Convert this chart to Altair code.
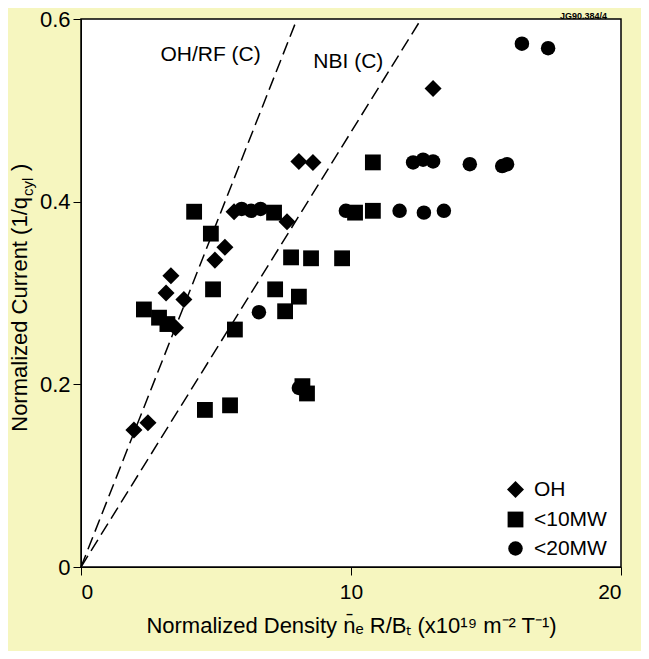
import altair as alt
import pandas as pd

# --- data ---
oh_x = [1.96, 2.48, 3.33, 3.81, 3.15, 3.5, 4.96, 5.33, 5.67, 7.63, 8.07, 8.59, 13.04]
oh_y = [0.150, 0.158, 0.319, 0.293, 0.300, 0.262, 0.336, 0.350, 0.389, 0.378, 0.444, 0.443, 0.524]

mw10_x = [2.33, 2.89, 3.2, 4.19, 4.81, 4.89, 4.59, 5.52, 5.70, 7.15, 7.78, 8.52, 9.67,
          7.19, 8.07, 7.56, 8.2, 8.37, 10.15, 10.81, 10.81]
mw10_y = [0.282, 0.273, 0.266, 0.389, 0.365, 0.304, 0.172, 0.177, 0.260, 0.388, 0.339, 0.338, 0.338,
          0.304, 0.296, 0.280, 0.198, 0.190, 0.388, 0.443, 0.390]

mw20_x = [6.59, 5.95, 6.3, 6.65, 8.07, 9.81, 11.8, 12.7, 13.44, 12.3, 12.67, 13.04,
          14.4, 15.6, 15.78, 16.33, 17.3]
mw20_y = [0.279, 0.392, 0.390, 0.392, 0.196, 0.390, 0.390, 0.388, 0.390, 0.443, 0.446, 0.444,
          0.441, 0.439, 0.441, 0.573, 0.568]

groups = ["OH", "<10MW", "<20MW"]
shapes = ["diamond", "square", "circle"]
sizes = [290, 210, 200]

# dashed scaling lines (from origin to the top of the frame)
line_names = ["OH/RF (C)", "NBI (C)"]
line_x_end = [8.0, 12.6]
line_y_end = [0.6, 0.6]
label_x = [4.8, 9.9]
label_y = [0.561, 0.553]

x_ticks = [0, 10, 20]
y_ticks = [0, 0.2, 0.4, 0.6]

FONT = "Liberation Sans"

pts = pd.DataFrame(
    [{"x": x, "y": y, "g": "OH"} for x, y in zip(oh_x, oh_y)]
    + [{"x": x, "y": y, "g": "<10MW"} for x, y in zip(mw10_x, mw10_y)]
    + [{"x": x, "y": y, "g": "<20MW"} for x, y in zip(mw20_x, mw20_y)]
)

lines = pd.DataFrame(
    [{"name": n, "x": 0, "y": 0} for n in line_names]
    + [{"name": n, "x": xe, "y": ye} for n, xe, ye in zip(line_names, line_x_end, line_y_end)]
)
labels = pd.DataFrame({"name": line_names, "x": label_x, "y": label_y})

xscale = alt.Scale(domain=[0, 20], nice=False)
yscale = alt.Scale(domain=[0, 0.6], nice=False)

xaxis = alt.Axis(
    values=x_ticks, format="d", grid=False, tickSize=8, tickColor="black",
    domainColor="black", labelColor="black", labelFontSize=21, labelFont=FONT,
    labelPadding=6,
    title="Normalized Density n\u0304\u2091 R/B\u209c (x10\u00b9\u2079 m\u207b\u00b2 T\u207b\u00b9)",
    titleFont=FONT, titleFontSize=22, titleFontWeight="normal", titleColor="black",
    titlePadding=13,
)
yaxis = alt.Axis(
    values=y_ticks, grid=False, tickSize=8, tickColor="black",
    domainColor="black", labelColor="black", labelFontSize=22, labelFont=FONT,
    labelPadding=3,
    labelExpr="datum.value == 0 ? '0' : format(datum.value, '.1f')",
    title=None,
)

leg = alt.Legend(title=None, orient="none", legendX=424, legendY=460,
                 labelFontSize=21, labelFont=FONT, labelColor="black",
                 symbolFillColor="black", symbolStrokeColor="black",
                 rowPadding=6, labelOffset=8)

points = alt.Chart(pts).mark_point(filled=True, opacity=1, color="black").encode(
    x=alt.X("x:Q", scale=xscale, axis=xaxis),
    y=alt.Y("y:Q", scale=yscale, axis=yaxis),
    shape=alt.Shape("g:N", scale=alt.Scale(domain=groups, range=shapes), legend=leg),
    size=alt.Size("g:N", scale=alt.Scale(domain=groups, range=sizes), legend=leg),
)

dash = alt.Chart(lines).mark_line(color="black", strokeWidth=1.5, strokeDash=[13, 6]).encode(
    x=alt.X("x:Q", scale=xscale),
    y=alt.Y("y:Q", scale=yscale),
    detail="name:N",
)

lab = alt.Chart(labels).mark_text(font=FONT, fontSize=21, color="black").encode(
    x=alt.X("x:Q", scale=xscale),
    y=alt.Y("y:Q", scale=yscale),
    text="name:N",
)

tag = alt.Chart(pd.DataFrame({"t": ["JG90.384/4"]})).mark_text(
    font=FONT, fontSize=9, fontWeight="bold", color="black", align="right", baseline="bottom"
).encode(x=alt.value(526), y=alt.value(2), text="t:N")

ytitle_main = alt.Chart(pd.DataFrame({"t": ["Normalized Current  (1/q"]})).mark_text(
    font=FONT, fontSize=22, color="black", angle=270, align="right", baseline="middle"
).encode(x=alt.value(-61), y=alt.value(178), text="t:N")
ytitle_sub = alt.Chart(pd.DataFrame({"t": ["cyl"]})).mark_text(
    font=FONT, fontSize=15, color="black", angle=270, align="left", baseline="middle"
).encode(x=alt.value(-53), y=alt.value(177), text="t:N")
ytitle_end = alt.Chart(pd.DataFrame({"t": [")"]})).mark_text(
    font=FONT, fontSize=22, color="black", angle=270, align="left", baseline="middle"
).encode(x=alt.value(-61), y=alt.value(152), text="t:N")

chart = alt.layer(dash, points, lab, tag, ytitle_main, ytitle_sub, ytitle_end).properties(
    width=540, height=548, background="#f6f6bf",
    autosize=alt.AutoSizeParams(type="none"),
    padding={"left": 73, "top": 11, "right": 20, "bottom": 84},
).configure_view(
    stroke="black", strokeWidth=1.5, fill="white",
)

chart.save("out.html", embed_options={"renderer": "svg", "actions": False})
